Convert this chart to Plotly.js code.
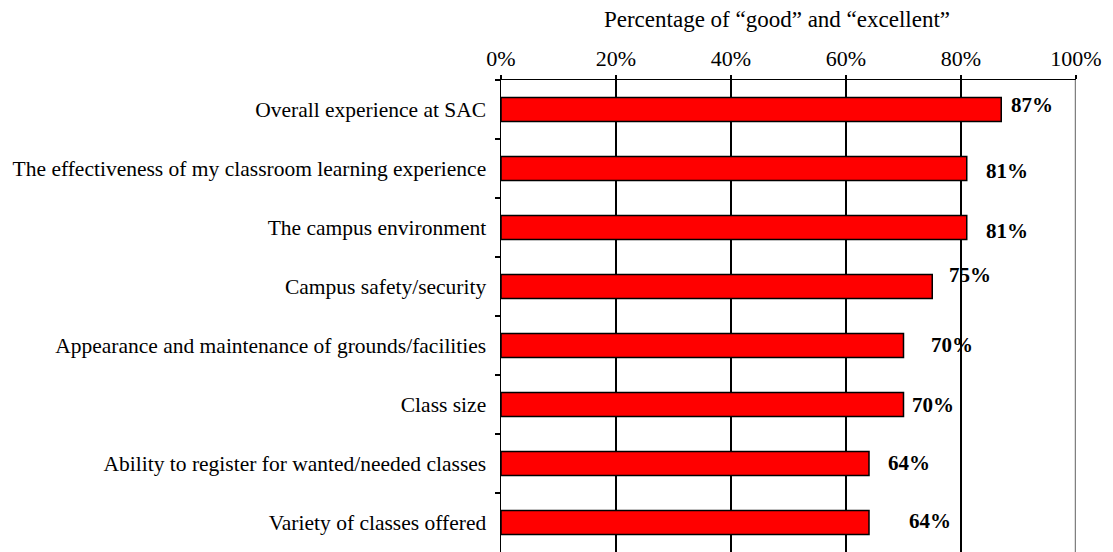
<!DOCTYPE html>
<html>
<head>
<meta charset="utf-8">
<script src="https://cdn.plot.ly/plotly-3.0.1.min.js"></script>
<style>html,body{margin:0;padding:0;background:#fff;}#chart{width:1113px;height:552px;}</style>
</head>
<body>
<div id="chart"></div>
<script>
const categories = [
  "Overall experience at SAC",
  "The effectiveness of my classroom learning experience",
  "The campus environment",
  "Campus safety/security",
  "Appearance and maintenance of grounds/facilities",
  "Class size",
  "Ability to register for wanted/needed classes",
  "Variety of classes offered"
];
const values = [87, 81, 81, 75, 70, 70, 64, 64];
const valueLabels = ["87%", "81%", "81%", "75%", "70%", "70%", "64%", "64%"];
const xTickVals = [0, 0.2, 0.4, 0.6, 0.8, 1.0];
const xTickText = ["0%", "20%", "40%", "60%", "80%", "100%"];
const axisTitle = "Percentage of \u201cgood\u201d and \u201cexcellent\u201d";

// label placement offsets (pixels) as in the original
const labelXShift = [8, 17, 17, 15, 25, 6, 17, 38];
const labelYShift = [5, -2, -3, 12, 1, 0, 1, 2];

const serif = "Liberation Serif, Times New Roman, serif";

const trace = {
  type: "bar",
  orientation: "h",
  x: values.map(v => v / 100),
  y: categories,
  marker: {color: "#FF0000", line: {color: "#000000", width: 1.5}},
  hoverinfo: "none"
};

const annotations = values.map((v, i) => ({
  x: v / 100,
  y: categories[i],
  xref: "x",
  yref: "y",
  text: "<b>" + valueLabels[i] + "</b>",
  showarrow: false,
  xanchor: "left",
  yanchor: "middle",
  xshift: labelXShift[i],
  yshift: labelYShift[i],
  font: {family: serif, size: 21, color: "#000"}
}));

const layout = {
  width: 1113,
  height: 552,
  margin: {l: 501, r: 37, t: 80, b: 0, pad: 0},
  paper_bgcolor: "#ffffff",
  plot_bgcolor: "#ffffff",
  showlegend: false,
  bargap: 0.59,
  title: {
    text: axisTitle,
    font: {family: serif, size: 23, color: "#000"},
    x: 777 / 1113,
    xanchor: "center",
    xref: "container",
    y: 1 - 19 / 552,
    yanchor: "middle",
    yref: "container"
  },
  xaxis: {
    side: "top",
    range: [0, 1],
    tickvals: xTickVals,
    ticktext: xTickText,
    ticks: "outside",
    ticklen: 4,
    tickwidth: 1.5,
    tickcolor: "#000",
    ticklabelstandoff: 0,
    showline: true,
    linecolor: "#000",
    linewidth: 1.5,
    showgrid: true,
    gridcolor: "#000",
    gridwidth: 1.5,
    zeroline: false,
    fixedrange: true,
    tickfont: {family: serif, size: 22, color: "#000"}
  },
  yaxis: {
    type: "category",
    range: [7.5, -0.5],
    tickson: "boundaries",
    ticks: "outside",
    ticklen: 5,
    tickwidth: 1.5,
    tickcolor: "#000",
    ticklabelstandoff: 9,
    showline: true,
    linecolor: "#000",
    linewidth: 1.5,
    showgrid: false,
    zeroline: false,
    fixedrange: true,
    tickfont: {family: serif, size: 21.5, color: "#000"}
  },
  shapes: [{
    type: "line",
    xref: "x",
    yref: "paper",
    x0: 1, x1: 1, y0: 0, y1: 1,
    line: {color: "#808080", width: 2.5},
    layer: "above"
  }],
  annotations: annotations
};

Plotly.newPlot("chart", [trace], layout, {displayModeBar: false, staticPlot: true});
</script>
</body>
</html>
